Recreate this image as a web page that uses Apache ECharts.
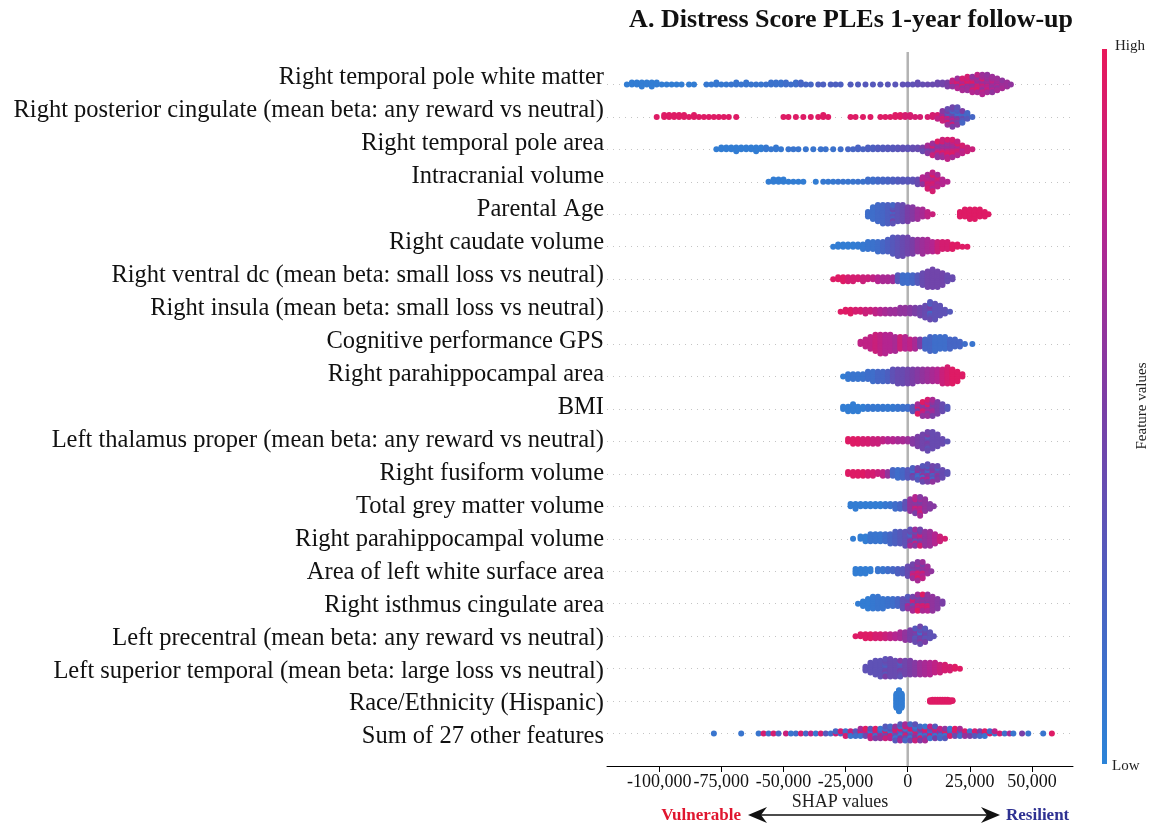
<!DOCTYPE html>
<html>
<head>
<meta charset="utf-8">
<script src="https://cdn.jsdelivr.net/npm/echarts@6/dist/echarts.min.js"></script>
<style>
  html, body { margin: 0; padding: 0; background: #fff; }
  #chart { width: 1151px; height: 827px; }
</style>
</head>
<body>
<div id="chart"></div>
<script>
const features = [
  'Right temporal pole white matter',
  'Right posterior cingulate (mean beta: any reward vs neutral)',
  'Right temporal pole area',
  'Intracranial volume',
  'Parental Age',
  'Right caudate volume',
  'Right ventral dc (mean beta: small loss vs neutral)',
  'Right insula (mean beta: small loss vs neutral)',
  'Cognitive performance GPS',
  'Right parahippocampal area',
  'BMI',
  'Left thalamus proper (mean beta: any reward vs neutral)',
  'Right fusiform volume',
  'Total grey matter volume',
  'Right parahippocampal volume',
  'Area of left white surface area',
  'Right isthmus cingulate area',
  'Left precentral (mean beta: any reward vs neutral)',
  'Left superior temporal (mean beta: large loss vs neutral)',
  'Race/Ethnicity (Hispanic)',
  'Sum of 27 other features'
];

const xTicks = [-100000, -75000, -50000, -25000, 0, 25000, 50000];
const rowTicks = features.map((_, i) => i);

// one entry per x bin: [SHAP value (thousands), number of dots, feature value 0..1 (or one per dot)]
const shapBins = [
  [[-113,1,.05],[-111,2,.05],[-109,2,.05],[-107,3,.05],[-105,2,.05],[-103,3,.05],[-101,2,.05],[-99,1,.05],[-97,1,.05],[-95,1,.05],[-93,1,.05],[-91,1,.05],[-88,1,.05],[-86,1,.05],
   [-81,1,.08],[-79,1,.08],[-77,2,.08],[-75,1,.08],[-73,1,.08],[-71,1,.1],[-69,2,.1],[-67,1,.1],[-65,2,.1],[-63,1,.1],[-61,1,.1],
   [-59,1,.1],[-57,1,.12],[-55,2,.12],[-53,2,.12],[-51,2,.12],[-49,2,.15],[-47,1,.15],[-45,2,.15],[-43,2,.2],[-41,1,.2],[-39,1,.2],
   [-36,1,.25],[-34,1,.25],[-31,1,.25],[-29,1,.25],[-27,1,.25],
   [-23,1,.28],[-20,1,.28],[-17,1,.3],[-14,1,.3],[-11,1,.3],[-8,1,.32],[-5,1,.32],
   [-2,1,.35],[0,1,.35],[2,1,.35],[4,2,.38],[6,1,.38],[8,1,.4],[10,1,.4],[12,2,.42],
   [14,2,.45],[16,3,.5],[18,4,[.55,.9,.6,.8]],[20,6,[.7,.95,.6,.9,.75,.65]],[22,7,[.9,.65,.95,.75,.6,.9,.7]],
   [24,8,[.75,.9,.6,.95,.7,.8,.65,.9]],[26,9,[.7,.85,.6,.95,.65,.8,.9,.6,.75]],[28,10,[.65,.75,.9,.6,.85,.7,.95,.6,.7,.8]],
   [30,11,[.6,.7,.85,.65,.75,.9,.6,.7,.8,.65,.75]],[32,10,[.65,.6,.8,.7,.75,.6,.85,.65,.7,.6]],[34,9,[.6,.7,.65,.8,.6,.7,.75,.65,.6]],
   [36,7,[.65,.6,.75,.7,.6,.65,.7]],[38,5,[.6,.7,.65,.6,.7]],[40,3,.65],[41.5,1,.6]],
  [[-101,1,.95],[-98,2,.95],[-96,2,.95],[-94,2,.95],[-92,2,.95],[-90,2,.95],[-88,1,.95],[-86,2,.95],[-84,1,.95],[-82,1,.95],[-80,1,.95],[-78,1,.95],[-76,1,.95],[-74,1,.95],[-72,1,.95],[-69,1,.95],
   [-50,1,.95],[-48,1,.95],[-45,1,.95],[-42,1,.95],[-39,1,.95],[-36,1,.95],[-34,2,.95],[-32,1,.95],
   [-23,1,.95],[-21,1,.95],[-18,1,.95],[-15,1,.95],
   [-11,1,.95],[-9,1,.95],[-7,1,.95],[-5,2,.95],[-3,2,.95],[-1,2,.9],[1,2,.9],[3,1,.9],[5,1,.9],
   [8,1,.9],[10,2,.9],
   [12,3,[.85,.9,.8]],[14,6,[.8,.6,.9,.7,.85,.55]],[16,9,[.6,.45,.8,.3,.7,.5,.9,.4,.65]],
   [18,11,[.5,.3,.6,.4,.75,.2,.55,.35,.85,.45,.5]],[20,10,[.4,.2,.5,.15,.6,.3,.45,.25,.55,.35]],
   [22,7,[.25,.15,.4,.2,.3,.5,.2]],[24,4,[.2,.15,.3,.2]],[26,1,.2]],
  [[-77,1,.05],[-75,2,.05],[-73,2,.05],[-71,2,.05],[-69,3,.05],[-67,2,.05],[-65,2,.05],[-63,2,.05],[-61,3,.05],[-59,2,.05],[-57,2,.08],[-55,1,.08],[-53,2,.08],[-51,1,.08],
   [-48,1,.1],[-46,1,.1],[-44,1,.1],[-41,1,.1],[-38,1,.1],[-35,1,.12],[-33,1,.12],[-30,1,.12],[-27,1,.15],
   [-24,1,.2],[-22,1,.2],[-20,2,.22],[-18,1,.22],[-16,2,.25],[-14,2,.25],[-12,2,.28],[-10,2,.28],[-8,2,.3],[-6,2,.3],[-4,2,.32],[-2,2,.35],[0,2,.35],[2,2,.38],[4,2,.4],
   [6,3,[.45,.5,.4]],[8,5,[.5,.6,.45,.7,.55]],[10,7,[.55,.7,.5,.9,.6,.65,.85]],[12,9,[.65,.6,.75,.55,.9,.6,.7,.95,.6]],
   [14,10,[.7,.6,.8,.65,.95,.6,.75,.9,.65,.85]],[16,11,[.7,.65,.8,.6,.9,.7,.95,.65,.75,.9,.8]],
   [18,10,[.75,.7,.85,.65,.9,.7,.95,.8,.7,.9]],[20,8,[.8,.75,.9,.7,.85,.95,.75,.8]],[22,5,[.8,.85,.75,.9,.8]],[24,3,.85],[26,1,.85]],
  [[-56,1,.05],[-54,2,.05],[-52,2,.05],[-50,2,.05],[-48,1,.05],[-46,1,.05],[-44,1,.05],[-42,1,.05],[-37,1,.05],
   [-34,1,.08],[-32,1,.08],[-30,1,.08],[-28,1,.1],[-26,1,.1],[-24,1,.1],[-22,1,.1],[-20,1,.12],[-18,1,.12],
   [-16,2,.15],[-14,2,.15],[-12,2,.18],[-10,2,.2],[-8,2,.22],[-6,2,.25],[-4,2,.28],[-2,2,.3],[0,2,.32],[2,2,.35],[4,3,.4],
   [6,4,[.7,.8,.6,.75]],[8,7,[.85,.8,.9,.75,.85,.7,.9]],[10,9,[.85,.8,.9,.7,.85,.95,.75,.8,.9]],[12,6,[.8,.85,.75,.9,.8,.7]],[14,3,.75],[16,1,.75]],
  [[-16,3,.15],[-14,6,.15],[-12,8,.18],[-10,9,.2],[-8,9,.25],[-6,9,[.3,.2,.35,.4,.25,.3,.45,.2,.35]],[-4,8,.35],[-2,8,.4],[0,7,.5],[2,6,.55],[4,5,.65],[6,4,.7],[8,3,.8],[10,1,.85],
   [21,3,.95],[23,4,.95],[25,5,.95],[27,5,.95],[29,4,.95],[31,3,.95],[32.5,1,.95]],
  [[-30,1,.05],[-28,2,.05],[-26,2,.05],[-24,2,.05],[-22,2,.05],[-20,2,.06],[-18,3,.08],[-16,4,.1],[-14,4,.12],[-12,5,.15],[-10,5,.2],[-8,6,.25],[-6,8,.3],[-4,9,.35],
   [-2,9,.4],[0,8,.45],[2,7,.5],[4,6,.6],[6,7,.65],[8,6,.7],[10,5,.75],[12,5,.85],[14,4,.9],[16,4,.9],[18,3,.95],[20,2,.95],[22,1,.95],[24,1,.95]],
  [[-30,1,.95],[-28,2,.95],[-26,3,.95],[-24,3,.9],[-22,3,.9],[-20,2,.9],[-18,3,.85],[-16,2,.85],[-14,2,.8],[-12,3,.75],[-10,3,.7],[-8,3,.7],[-6,3,.65],[-4,4,.3],
   [-2,5,.15],[0,5,.15],[2,5,.2],[4,5,.3],[6,7,.4],[8,9,.45],[10,10,.45],[12,9,.45],[14,7,.45],[16,4,.4],[18,2,.4]],
  [[-27,1,.95],[-25,2,.95],[-23,3,.95],[-21,2,.9],[-19,2,.9],[-17,3,.85],[-15,2,.85],[-13,3,.8],[-11,3,.75],[-9,3,.7],[-7,3,.65],[-5,3,.65],[-3,4,.6],[-1,4,.6],
   [1,4,.55],[3,4,.5],[5,5,.45],[7,7,.4],[9,10,[.35,.4,.2,.45,.3,.5,.35,.25,.4,.3]],[11,9,.35],[13,6,.35],[15,3,.35],[17,1,.3]],
  [[-19,2,.8],[-17,4,.8],[-15,6,.8],[-13,8,.85],[-11,9,.8],[-9,9,.75],[-7,8,.75],[-5,7,.7],[-3,6,.85],[-1,6,.75],[1,5,.8],[3,5,.7],[5,4,.5],
   [7,5,.2],[9,7,.2],[11,7,.15],[13,6,.15],[15,6,.15],[17,5,.2],[19,4,.2],[21,3,.2],[23,1,.15],[26,1,.1]],
  [[-26,1,.05],[-24,3,.08],[-22,3,.1],[-20,3,.1],[-18,3,.12],[-16,4,.15],[-14,5,.15],[-12,5,.2],[-10,5,.2],[-8,5,.25],[-6,6,.35],[-4,7,.4],[-2,7,.4],[0,7,.45],
   [2,7,.5],[4,6,.55],[6,6,.6],[8,6,.65],[10,6,.7],[12,6,.75],[14,7,.85],[16,8,.9],[18,7,.95],[20,5,.95],[22,2,.95]],
  [[-26,2,.05],[-24,3,.05],[-22,4,.05],[-20,3,.05],[-18,2,.05],[-16,2,.08],[-14,2,.08],[-12,2,.08],[-10,2,.08],[-8,2,.08],[-6,2,.08],[-4,2,.1],[-2,2,.12],[0,2,.15],
   [2,3,.3],[4,5,[.6,.9,.5,.7,.95]],[6,7,[.75,.6,.9,.55,.8,.95,.6]],[8,8,[.8,.6,.7,.95,.55,.75,.65,.9]],[10,8,[.6,.55,.7,.5,.65,.6,.5,.7]],[12,6,.5],[14,4,.4],[16,2,.3]],
  [[-24,2,.95],[-22,3,.95],[-20,3,.95],[-18,3,.9],[-16,3,.9],[-14,3,.85],[-12,3,.85],[-10,2,.8],[-8,2,.75],[-6,2,.75],[-4,2,.7],[-2,2,.7],[0,2,.65],
   [2,3,.55],[4,5,.5],[6,7,.45],[8,9,[.45,.4,.5,.3,.45,.55,.35,.45,.4]],[10,8,.4],[12,6,.4],[14,3,.4],[16,1,.35]],
  [[-24,2,.95],[-22,3,.95],[-20,3,.95],[-18,3,.95],[-16,3,.9],[-14,3,.9],[-12,2,.85],[-10,3,.8],[-8,3,.6],[-6,4,.2],[-4,5,.15],[-2,5,.2],[0,5,.3],
   [2,6,[.35,.2,.5,.15,.4,.25]],[4,7,[.3,.5,.2,.6,.15,.45,.3]],[6,9,[.35,.2,.6,.45,.15,.5,.7,.3,.4]],[8,10,[.45,.3,.6,.2,.55,.4,.75,.25,.5,.35]],
   [10,9,[.4,.55,.25,.6,.35,.5,.2,.45,.6]],[12,8,[.45,.3,.6,.4,.5,.25,.55,.4]],[14,5,.4],[16,2,.35]],
  [[-23,2,.05],[-21,3,.05],[-19,2,.05],[-17,2,.05],[-15,2,.05],[-13,2,.05],[-11,2,.05],[-9,2,.08],[-7,2,.1],[-5,3,.15],[-3,3,.2],[-1,4,.35],
   [1,6,.6],[3,8,[.75,.6,.85,.55,.7,.8,.5,.75]],[5,9,[.7,.6,.8,.5,.75,.65,.85,.55,.7]],[7,6,.6],[9,3,.55],[10.5,1,.55]],
  [[-22,1,.05],[-19,2,.05],[-17,3,.05],[-15,4,.1],[-13,4,.1],[-11,4,.1],[-9,4,.15],[-7,5,.2],[-5,6,.25],[-3,6,.3],[-1,7,.35],
   [1,8,[.45,.3,.6,.2,.5,.4,.7,.35]],[3,8,[.5,.7,.35,.6,.8,.4,.55,.65]],[5,8,[.55,.75,.4,.85,.6,.5,.9,.45]],[7,7,.6],[9,7,.65],[11,5,.75],[13,3,.85],[15,1,.9]],
  [[-21,3,.05],[-19,3,.05],[-17,3,.05],[-15,2,.05],[-12,2,.1],[-10,2,.1],[-8,2,.15],[-6,2,.2],[-4,3,.25],[-2,3,.3],[0,5,.4],
   [2,7,[.6,.4,.75,.5,.85,.45,.65]],[4,9,[.75,.6,.9,.5,.8,.65,.95,.55,.7]],[6,8,[.7,.55,.85,.6,.75,.5,.8,.65]],[8,4,.65],[9.5,1,.6]],
  [[-20,1,.05],[-18,3,.05],[-16,5,.05],[-14,6,.08],[-12,6,.1],[-10,5,.1],[-8,4,.12],[-6,4,.15],[-4,4,.2],[-2,5,.35],
   [0,6,[.5,.35,.7,.4,.6,.3]],[2,7,[.55,.8,.4,.9,.6,.45,.7]],[4,8,[.7,.5,.9,.6,.8,.45,.95,.65]],[6,8,[.75,.55,.9,.6,.85,.5,.7,.95]],
   [8,8,[.7,.5,.85,.6,.9,.55,.75,.6]],[10,7,.6],[12,5,.55],[14,2,.5]],
  [[-21,1,.95],[-19,2,.95],[-17,3,.95],[-15,3,.95],[-13,3,.9],[-11,3,.9],[-9,3,.85],[-7,3,.8],[-5,3,.75],[-3,4,.7],[-1,5,.6],
   [1,6,.5],[3,8,[.4,.5,.3,.45,.35,.55,.4,.3]],[5,10,[.4,.3,.5,.15,.45,.35,.55,.3,.4,.45]],[7,8,[.4,.5,.3,.45,.35,.4,.5,.3]],[9,4,.35],[10.5,1,.35]],
  [[-17,3,.35],[-15,6,.35],[-13,8,.35],[-11,9,.35],[-9,10,[.35,.3,.4,.25,.45,.35,.3,.4,.5,.35]],[-7,10,.4],[-5,9,.4],[-3,9,[.4,.3,.5,.35,.45,.25,.4,.55,.35]],
   [-1,8,.45],[1,8,.5],[3,7,.55],[5,7,.65],[7,7,.7],[9,7,.75],[11,6,.8],[13,5,.85],[15,4,.9],[17,3,.9],[19,2,.95],[21,1,.95]],
  [[-4.5,20,.05],[-3.5,30,.05],[-2.5,20,.05],
   [9,3,.95],[10,4,.95],[11,4,.95],[12,4,.95],[13,4,.95],[14,4,.95],[15,4,.95],[16,4,.95],[17,3,.95],[18,2,.95]],
  [[-78,1,.1],[-67,1,.1],[-60,1,.1],[-58,1,.9],[-56,1,.15],[-54,1,.9],[-52,1,.2],
   [-49,1,.85],[-47,1,.1],[-45,1,.15],[-43,1,.9],[-41,1,.2],[-39,1,.8],[-37,1,.1],[-35,1,.9],[-33,1,.3],[-31,1,.15],
   [-29,2,[.85,.2]],[-27,2,[.2,.9]],[-25,3,[.7,.15,.9]],[-23,3,[.2,.85,.1]],[-21,3,[.8,.3,.15]],[-19,4,[.3,.9,.1,.7]],[-17,4,[.15,.8,.4,.95]],
   [-15,5,[.6,.1,.9,.3,.8]],[-13,5,[.3,.85,.15,.95,.5]],[-11,5,[.9,.2,.7,.1,.6]],[-9,6,[.2,.95,.4,.15,.85,.3]],[-7,6,[.5,.1,.9,.3,.75,.2]],
   [-5,7,[.15,.8,.35,.95,.1,.6,.3]],[-3,8,[.8,.2,.1,.9,.5,.15,.7,.3]],[-1,8,[.2,.6,.9,.1,.4,.85,.2,.7]],[1,8,[.6,.15,.3,.95,.1,.8,.4,.2]],
   [3,8,[.15,.9,.7,.2,.5,.1,.85,.35]],[5,7,[.85,.3,.1,.6,.9,.2,.5]],[7,7,[.3,.8,.15,.95,.4,.1,.7]],[9,6,[.6,.2,.9,.35,.1,.8]],
   [11,6,[.2,.7,.1,.9,.5,.3]],[13,5,[.9,.4,.15,.8,.2]],[15,5,[.4,.95,.1,.6,.3]],[17,4,[.8,.2,.9,.1]],[19,4,[.2,.85,.4,.95]],
   [21,4,[.9,.3,.15,.7]],[23,3,[.3,.9,.6]],[25,3,[.85,.1,.5]],[27,3,[.15,.9,.3]],[29,3,[.9,.5,.2]],[31,3,[.5,.95,.1]],
   [33,2,[.95,.2]],[35,2,[.1,.8]],[37,1,.9],[39,1,.15],[41,1,.7],[42.5,1,.1],[46,1,.5],[48.5,1,.1],[54.5,1,.1],[58,1,.95]]
];

const colourStops = ['#2b84d8', '#4d5fc0', '#7a3ea6', '#b42590', '#e9185a'];
const serif = "'Liberation Serif', 'Times New Roman', serif";

// beeswarm stacking: dots in a bin go 0, +1, -1, +2, -2 ... scaled per row like shap does
const points = [];
shapBins.forEach((row, r) => {
  const yRow = features.length - 1 - r;
  const maxLayer = Math.max(...row.map(b => Math.ceil((b[1] - 1) / 2)));
  const step = 0.36 / (maxLayer + 1);
  row.forEach(([x, n, c]) => {
    for (let k = 0; k < n; k++) {
      const layer = Math.ceil(k / 2) * (k % 2 ? 1 : -1);
      const v = Array.isArray(c) ? c[k % c.length] : c;
      points.push([x * 1000, yRow + layer * step, v]);
    }
  });
});

function fmtTick(v) {
  const s = Math.abs(v).toString().replace(/\B(?=(\d{3})+(?!\d))/g, ',');
  return (v < 0 ? '-' : '') + s;
}

const chart = echarts.init(document.getElementById('chart'), null, { renderer: 'canvas' });

const option = {
  animation: false,
  title: {
    text: 'A. Distress Score PLEs 1-year follow-up',
    right: 78,
    top: 7,
    padding: 0,
    textStyle: { fontFamily: serif, fontWeight: 'bold', fontSize: 26, color: '#111' }
  },
  grid: { left: 607, right: 78, top: 52, bottom: 61 },
  xAxis: {
    type: 'value',
    min: -121000,
    max: 66500,
    name: 'SHAP values',
    nameLocation: 'middle',
    nameGap: 27,
    nameMoveOverlap: false,
    nameTextStyle: { fontFamily: serif, fontSize: 18, color: '#222' },
    axisLine: { onZero: false, lineStyle: { color: '#000', width: 1 } },
    axisTick: { show: true, length: 6, customValues: xTicks, lineStyle: { color: '#000', width: 1 } },
    axisLabel: {
      customValues: xTicks, formatter: fmtTick, hideOverlap: false, showMinLabel: true, showMaxLabel: true,
      fontFamily: serif, fontSize: 18, color: '#111', margin: 7
    },
    splitLine: { show: false }
  },
  yAxis: [
    {
      // rows of the swarm, with the dotted guide line through each row
      type: 'value',
      min: -1,
      max: 21,
      interval: 1,
      axisLine: { show: false },
      axisTick: { show: false },
      axisLabel: { show: false },
      splitLine: {
        show: true, showMinLine: false, showMaxLine: false,
        lineStyle: { color: '#c4c4c4', width: 1, type: [1, 5] }
      }
    },
    {
      // feature names, spaced as in the source figure
      type: 'value',
      position: 'left',
      min: -0.88,
      max: 20.79,
      axisLine: { show: false },
      axisTick: { show: false },
      splitLine: { show: false },
      axisLabel: {
        customValues: rowTicks,
        formatter: v => features[features.length - 1 - Math.round(v)] || '',
        fontFamily: serif, fontSize: 24.5, color: '#111', margin: 3
      }
    }
  ],
  visualMap: {
    type: 'continuous',
    show: false,
    dimension: 2,
    min: 0,
    max: 1,
    seriesIndex: 1,
    inRange: { color: colourStops }
  },
  series: [
    {
      type: 'line',
      data: [[0, -1], [0, 21]],
      symbol: 'none',
      silent: true,
      z: 1,
      lineStyle: { color: '#b3b3b3', width: 2.5 }
    },
    {
      type: 'scatter',
      data: points,
      symbolSize: 6,
      z: 2,
      itemStyle: { opacity: 1 }
    }
  ],
  graphic: [
    {
      type: 'rect',
      shape: { x: 1102, y: 49, width: 5, height: 715 },
      style: {
        fill: {
          type: 'linear', x: 0, y: 1, x2: 0, y2: 0,
          colorStops: colourStops.map((c, i) => ({ offset: i / (colourStops.length - 1), color: c }))
        }
      }
    },
    { type: 'text', x: 1115, y: 46, style: { text: 'High', font: '15px ' + serif, fill: '#222', textVerticalAlign: 'middle' } },
    { type: 'text', x: 1112, y: 766, style: { text: 'Low', font: '15px ' + serif, fill: '#222', textVerticalAlign: 'middle' } },
    {
      type: 'text', x: 1142, y: 406, rotation: Math.PI / 2,
      style: { text: 'Feature values', font: '15px ' + serif, fill: '#222', textAlign: 'center', textVerticalAlign: 'middle' }
    },
    { type: 'line', shape: { x1: 758, y1: 815, x2: 990, y2: 815 }, style: { stroke: '#111', lineWidth: 1.5 } },
    { type: 'polygon', shape: { points: [[748, 815], [767, 807], [761, 815], [767, 823]] }, style: { fill: '#111' } },
    { type: 'polygon', shape: { points: [[1000, 815], [981, 807], [987, 815], [981, 823]] }, style: { fill: '#111' } },
    { type: 'text', x: 741, y: 816, style: { text: 'Vulnerable', font: 'bold 17px ' + serif, fill: '#e0162f', textAlign: 'right', textVerticalAlign: 'middle' } },
    { type: 'text', x: 1006, y: 816, style: { text: 'Resilient', font: 'bold 17px ' + serif, fill: '#2e3192', textAlign: 'left', textVerticalAlign: 'middle' } }
  ]
};

chart.setOption(option);
window.addEventListener('resize', chart.resize);
</script>
</body>
</html>
